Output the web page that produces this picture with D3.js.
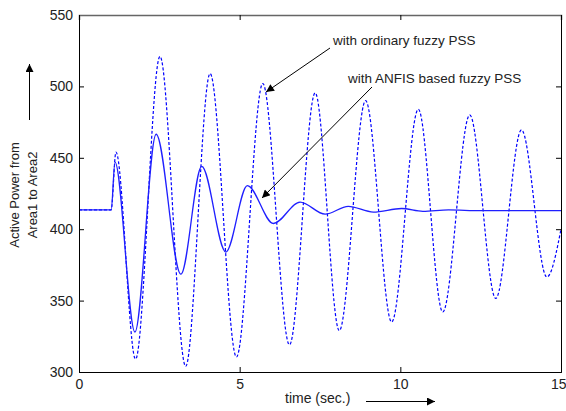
<!DOCTYPE html>
<html>
<head>
<meta charset="utf-8">
<script src="https://cdn.jsdelivr.net/npm/d3@7"></script>
<style>
  body { margin: 0; background: #fff; }
  svg text { font-family: "Liberation Sans", Arial, sans-serif; fill: #222; }
</style>
</head>
<body>
<div id="chart"></div>
<script>
// ANFIS based fuzzy PSS (solid)
const anfisTime = [0, 1.0, 1.12, 1.74, 2.40, 3.17, 3.82, 4.57, 5.24, 6.05, 6.88, 7.66, 8.38, 9.16, 10.04, 10.7, 11.5, 12.5, 15];
const anfisPower = [413.5, 413.5, 447, 328, 466.5, 368.5, 444, 384, 430.5, 404, 419, 410.5, 416, 412, 414.5, 412.5, 413.5, 413, 413];

// ordinary fuzzy PSS (dashed)
const ordTime = [0, 1.0, 1.15, 1.76, 2.52, 3.32, 4.08, 4.90, 5.72, 6.55, 7.35, 8.10, 8.92, 9.73, 10.56, 11.32, 12.16, 12.97, 13.77, 14.56, 15];
const ordPower = [413.5, 413.5, 454, 309, 521, 304, 509, 310.5, 502, 319, 495.5, 329, 490, 335, 484, 342, 480, 351.5, 469.5, 366.5, 400];

const xTicks = [0, 5, 10, 15];
const yTicks = [300, 350, 400, 450, 500, 550];

const width = 566;
const height = 411;
const margin = { top: 15, right: 5, bottom: 39, left: 79 };

const svg = d3.select('#chart')
  .append('svg')
  .attr('width', width)
  .attr('height', height);

const x = d3.scaleLinear()
  .domain([0, 15])
  .range([margin.left, width - margin.right]);

const y = d3.scaleLinear()
  .domain([300, 550])
  .range([height - margin.bottom, margin.top]);

const defs = svg.append('defs');
defs.append('marker')
  .attr('id', 'head')
  .attr('viewBox', '0 0 10 10')
  .attr('refX', 10).attr('refY', 5)
  .attr('markerWidth', 10).attr('markerHeight', 8)
  .attr('markerUnits', 'userSpaceOnUse')
  .attr('orient', 'auto')
  .append('path')
  .attr('d', 'M0,0L10,5L0,10Z')
  .attr('fill', '#000');

defs.append('clipPath').attr('id', 'plot')
  .append('rect')
  .attr('x', margin.left).attr('y', margin.top)
  .attr('width', x(15) - x(0)).attr('height', y(300) - y(550));

// lines
const line = d3.line()
  .x(d => x(d[0]))
  .y(d => y(d[1]))
  .curve(d3.curveMonotoneX);

const g = svg.append('g').attr('clip-path', 'url(#plot)');

g.append('path')
  .datum(d3.zip(ordTime, ordPower))
  .attr('d', line)
  .attr('fill', 'none')
  .attr('stroke', '#0000ff')
  .attr('stroke-width', 1.2)
  .attr('stroke-dasharray', '3,2');

g.append('path')
  .datum(d3.zip(anfisTime, anfisPower))
  .attr('d', line)
  .attr('fill', 'none')
  .attr('stroke', '#1f1fff')
  .attr('stroke-width', 1.3);

// axes, ticks pointing inward
svg.append('g')
  .attr('transform', `translate(${margin.left},0)`)
  .call(d3.axisLeft(y).tickValues(yTicks).tickSize(-5).tickPadding(6));

const axisBottom = svg.append('g')
  .attr('transform', `translate(0,${height - margin.bottom})`)
  .call(d3.axisBottom(x).tickValues(xTicks).tickSize(-5).tickPadding(7));

// last label sits against the right edge
axisBottom.selectAll('.tick text')
  .filter(d => d === 15)
  .attr('text-anchor', 'end')
  .attr('dx', 5);

svg.append('g')
  .attr('transform', `translate(${width - margin.right},0)`)
  .call(d3.axisRight(y).tickValues(yTicks).tickSize(-5).tickFormat(''));

svg.append('g')
  .attr('transform', `translate(0,${margin.top})`)
  .call(d3.axisTop(x).tickValues(xTicks).tickSize(-5).tickFormat(''))
  .select('.domain').attr('stroke', '#666').attr('stroke-width', 1.5);

svg.selectAll('.tick text')
  .attr('font-size', '14px')
  .attr('font-family', '"Liberation Sans", Arial, sans-serif')
  .attr('fill', '#222');

// y label
svg.append('text')
  .attr('transform', 'translate(19,195) rotate(-90)')
  .attr('text-anchor', 'middle')
  .attr('font-size', '13px')
  .text('Active Power from');

svg.append('text')
  .attr('transform', 'translate(37,195) rotate(-90)')
  .attr('text-anchor', 'middle')
  .attr('font-size', '13px')
  .text('Area1 to Area2');

svg.append('line')
  .attr('x1', 29.5).attr('y1', 120)
  .attr('x2', 29.5).attr('y2', 64)
  .attr('stroke', '#000').attr('stroke-width', 1)
  .attr('marker-end', 'url(#head)');

// x label
svg.append('text')
  .attr('x', 285).attr('y', 403)
  .attr('font-size', '14px')
  .text('time (sec.)');

svg.append('line')
  .attr('x1', 366).attr('y1', 401.5)
  .attr('x2', 435).attr('y2', 401.5)
  .attr('stroke', '#000').attr('stroke-width', 1)
  .attr('marker-end', 'url(#head)');

// annotations
svg.append('text')
  .attr('x', 333).attr('y', 45)
  .attr('font-size', '13.5px')
  .text('with ordinary fuzzy PSS');

svg.append('text')
  .attr('x', 348).attr('y', 83)
  .attr('font-size', '13.5px')
  .text('with ANFIS based fuzzy PSS');

svg.append('line')
  .attr('x1', 330).attr('y1', 48)
  .attr('x2', 266).attr('y2', 92)
  .attr('stroke', '#000').attr('stroke-width', 1)
  .attr('marker-end', 'url(#head)');

svg.append('line')
  .attr('x1', 372).attr('y1', 87)
  .attr('x2', 262).attr('y2', 198)
  .attr('stroke', '#000').attr('stroke-width', 1)
  .attr('marker-end', 'url(#head)');
</script>
</body>
</html>
